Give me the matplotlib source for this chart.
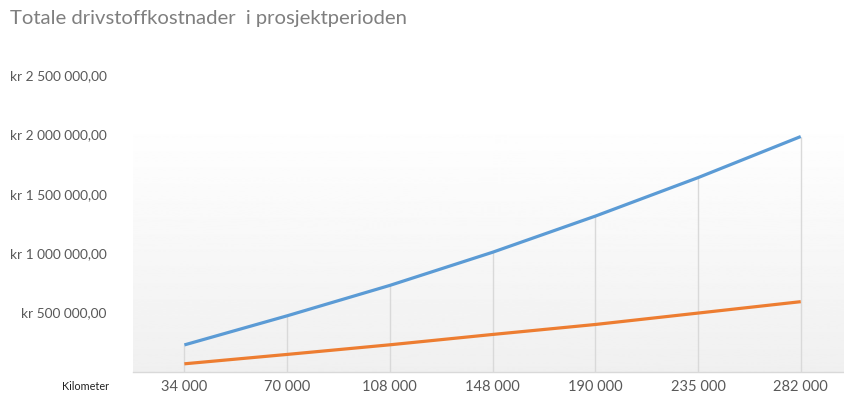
import numpy as np
import matplotlib
matplotlib.use("Agg")
import matplotlib.pyplot as plt

# values
km_labels = ["34 000", "70 000", "108 000", "148 000", "190 000", "235 000", "282 000"]
blue_cost = [228000, 473000, 729000, 1008000, 1312000, 1636000, 1982000]
orange_cost = [69000, 148000, 229000, 316000, 400000, 496000, 592000]
y_ticks = [500000, 1000000, 1500000, 2000000, 2500000]
y_labels = ["kr 500 000,00", "kr 1 000 000,00", "kr 1 500 000,00",
            "kr 2 000 000,00", "kr 2 500 000,00"]

plt.rcParams['font.family'] = ['Lato', 'DejaVu Sans']

fig = plt.figure(figsize=(8.44, 4.03), dpi=100)
ax = fig.add_axes([0.1576, 0.0769, 0.852, 0.737])

x = np.arange(len(km_labels))
ax.set_xlim(-0.5, len(km_labels) - 0.5)
ax.set_ylim(0, 2500000)

# soft grey gradient behind the plot, as in the original
grad = np.linspace(0.94, 1.0, 256).reshape(-1, 1)
ax.imshow(grad, extent=[-0.5, len(km_labels) - 0.5, 0, 2130000], origin="lower",
          cmap="gray", vmin=0, vmax=1, aspect="auto", zorder=0)

# drop lines from the top series
ax.vlines(x, 0, blue_cost, color="#d9d9d9", lw=1, zorder=1)

ax.plot(x, blue_cost, color="#5B9BD5", lw=2.3, solid_capstyle="butt", zorder=3)
ax.plot(x, orange_cost, color="#ED7D31", lw=2.3, solid_capstyle="butt", zorder=3)

for side in ["top", "right", "left"]:
    ax.spines[side].set_visible(False)
ax.spines["bottom"].set_color("#d9d9d9")
ax.spines["bottom"].set_linewidth(1)

ax.set_xticks(x)
ax.set_xticklabels(km_labels, fontsize=10.5, color="#595959")
ax.set_yticks(y_ticks)
ax.set_yticklabels(y_labels, fontsize=9.9, color="#595959")
ax.tick_params(axis="both", length=0)
ax.tick_params(axis="y", pad=19)
ax.tick_params(axis="x", pad=6)

fig.text(0.101, 0.042, "Kilometer", fontsize=7.8, color="#222222",
         ha="center", va="center")
fig.text(0.012, 0.955, "Totale drivstoffkostnader  i prosjektperioden",
         fontsize=14.6, color="#7f7f7f", ha="left", va="center")

fig.savefig("out.png", dpi=100)
